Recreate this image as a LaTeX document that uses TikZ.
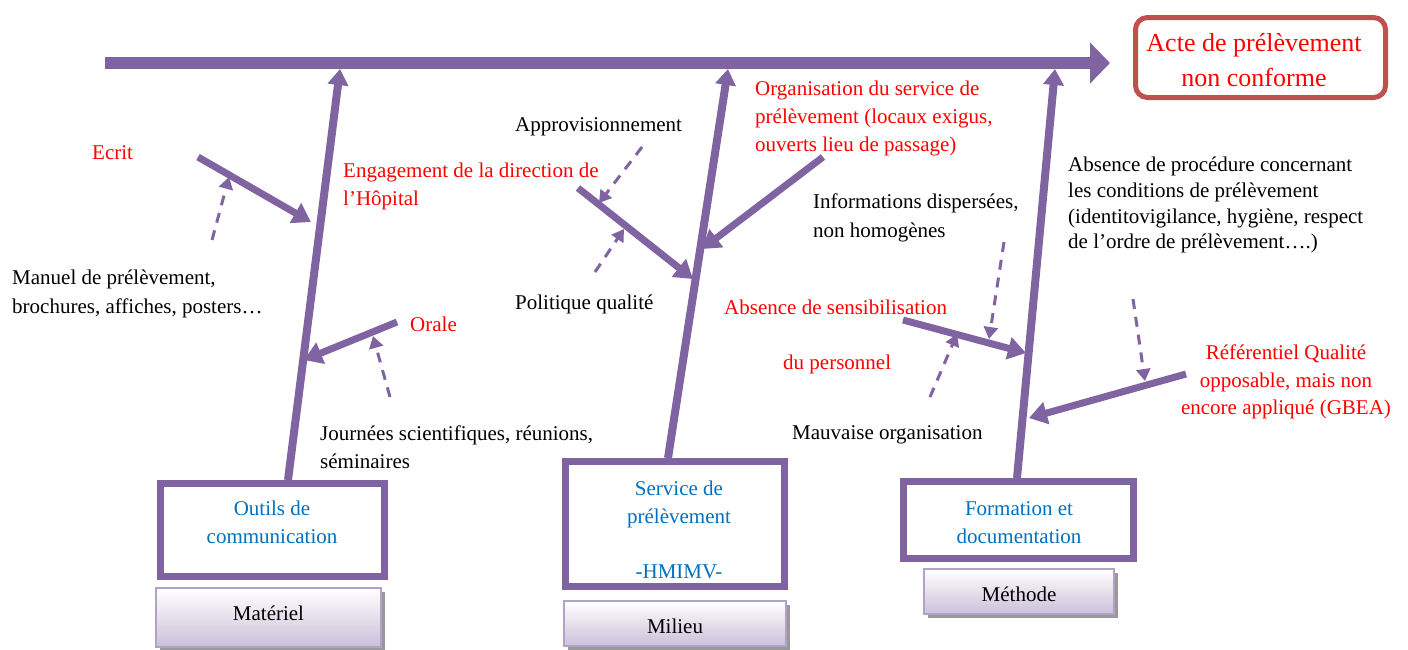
\documentclass[tikz,border=0pt]{standalone}
\usepackage{fontspec}
\setmainfont{Liberation Serif}
\usetikzlibrary{arrows.meta,calc,shadows}
\definecolor{bonecol}{HTML}{8064A2}
\definecolor{effectcol}{HTML}{C0504D}
\definecolor{redtext}{HTML}{FF0000}
\definecolor{bluetext}{HTML}{0070C0}
\definecolor{lavender}{HTML}{CCC0DA}
\definecolor{lavedge}{HTML}{B3A2C7}
\begin{document}
\begin{tikzpicture}[x=1pt,y=-1pt,
  spine/.style={draw=bonecol, line width=12pt, -{Triangle[length=20pt,width=40pt]}},
  mainbone/.style={draw=bonecol, line width=8pt, -{Triangle[length=16pt,width=20pt]}},
  subbone/.style={draw=bonecol, line width=7pt, -{Triangle[length=18pt,width=22pt]}},
  causeline/.style={draw=bonecol, line width=3pt, dash pattern=on 10pt off 8pt, -{Triangle[length=12pt,width=14pt]}},
  txt/.style={font=\fontsize{21}{28}\selectfont, inner sep=0pt, align=left, anchor=north west},
  redtxt/.style={txt, text=redtext},
  effectbox/.style={draw=effectcol, line width=5pt, rounded corners=12pt,
    minimum width=250pt, minimum height=80pt},
  effecttext/.style={align=center, text=redtext, font=\fontsize{26}{34.5}\selectfont, inner sep=0pt},
  catbox/.style={draw=bonecol, line width=7pt, fill=white},
  cattext/.style={font=\fontsize{21}{28}\selectfont, text=bluetext, align=center, inner sep=0pt},
  labelbox/.style={draw=lavedge, line width=2pt, top color=white, bottom color=lavender,
    drop shadow={shadow xshift=4pt, shadow yshift=-4pt, fill=black!40, opacity=1},
    font=\fontsize{21}{28}\selectfont, inner sep=0pt}
]
\useasboundingbox (0,0) rectangle (1408,649);

% effect
\node[effectbox] (effect) at (1260.5,57.5) {};
\node[effecttext] (effectt) at (1254,60) {Acte de prélèvement\\non conforme};

% spine
\coordinate (sp0) at (105,63);
\coordinate (sp1) at (1110,63);
\draw[spine] (sp0) -- (sp1);

% category boxes
\node[catbox, minimum width=224pt, minimum height=93pt] (cat1) at (272.5,530) {};
\node[cattext] (cat1t) at (272,522) {Outils de\\communication};
\node[catbox, minimum width=219pt, minimum height=125pt] (cat2) at (675,524) {};
\node[cattext] (cat2t) at (679,530) {Service de\\prélèvement\\[27pt]-HMIMV-};
\node[catbox, minimum width=230pt, minimum height=77pt] (cat3) at (1018.5,520) {};
\node[cattext] (cat3t) at (1019,523) {Formation et\\documentation};

% category labels
\node[labelbox, minimum width=225pt, minimum height=59pt, text height=15pt, text depth=10pt] (lab1) at (268.5,617.5) {Matériel};
\node[labelbox, minimum width=222pt, minimum height=45pt, text height=20pt, text depth=0pt] (lab2) at (675,623.5) {Milieu};
\node[labelbox, minimum width=190pt, minimum height=45pt, text height=19pt, text depth=0pt] (lab3) at (1019,591.5) {Méthode};

% main bones
\coordinate (b1s) at (288,480);  \coordinate (b1e) at (340,69);
\coordinate (b2s) at (668,458);  \coordinate (b2e) at (728,69);
\coordinate (b3s) at (1017,478); \coordinate (b3e) at (1055,69);
\draw[mainbone] (b1s) -- (b1e);
\draw[mainbone] (b2s) -- (b2e);
\draw[mainbone] (b3s) -- (b3e);

% Matériel causes
\coordinate (ecr0) at (198,157); \coordinate (ecr1) at (311,222);
\draw[subbone] (ecr0) -- (ecr1);
\coordinate (ecrd0) at (212,240); \coordinate (ecrd1) at (229,177);
\draw[causeline] (ecrd0) -- (ecrd1);
\coordinate (ora0) at (397,322); \coordinate (ora1) at (304,360);
\draw[subbone] (ora0) -- (ora1);
\coordinate (orad0) at (390,397); \coordinate (orad1) at (373,336);
\draw[causeline] (orad0) -- (orad1);

% Milieu causes
\coordinate (eng0) at (578,188); \coordinate (eng1) at (693,279);
\draw[subbone] (eng0) -- (eng1);
\coordinate (engd0) at (642,147); \coordinate (engd1) at (599,203);
\draw[causeline] (engd0) -- (engd1);
\coordinate (engd2) at (595,272); \coordinate (engd3) at (624,229);
\draw[causeline] (engd2) -- (engd3);
\coordinate (org0) at (823,157); \coordinate (org1) at (702,249);
\draw[subbone] (org0) -- (org1);

% Méthode causes
\coordinate (sen0) at (903,320); \coordinate (sen1) at (1026,353);
\draw[subbone] (sen0) -- (sen1);
\coordinate (send0) at (1004,242); \coordinate (send1) at (989,339);
\draw[causeline] (send0) -- (send1);
\coordinate (send2) at (930,397); \coordinate (send3) at (957,334);
\draw[causeline] (send2) -- (send3);
\coordinate (ref0) at (1186,374); \coordinate (ref1) at (1029,418);
\draw[subbone] (ref0) -- (ref1);
\coordinate (refd0) at (1133,299); \coordinate (refd1) at (1145,381);
\draw[causeline] (refd0) -- (refd1);

% texts
\node[redtxt] (tecrit) at (92,145) {Ecrit};
\node[txt] (tmanuel) at (12,270) {Manuel de prélèvement,\\[1pt]brochures, affiches, posters…};
\node[redtxt] (teng) at (343,163) {Engagement de la direction de\\l’Hôpital};
\node[redtxt] (torale) at (410,317) {Orale};
\node[txt] (tjour) at (320,426) {Journées scientifiques, réunions,\\séminaires};
\node[txt] (tappro) at (515,117) {Approvisionnement};
\node[txt] (tpoli) at (515,295) {Politique qualité};
\node[redtxt] (torga) at (755,81) {Organisation du service de\\prélèvement (locaux exigus,\\ouverts lieu de passage)};
\node[txt] (tinfo) at (813,194) {Informations dispersées,\\[1pt]non homogènes};
\node[redtxt] (tsens) at (724,300) {Absence de sensibilisation};
\node[redtxt] (tpers) at (783,355) {du personnel};
\node[txt] (tmauv) at (792,425) {Mauvaise organisation};
\node[txt, font=\fontsize{21}{25.7}\selectfont] (tproc) at (1068,157)
  {Absence de procédure concernant\\les conditions de prélèvement\\(identitovigilance, hygiène, respect\\de l’ordre de prélèvement….)};
\node[redtxt, align=center, anchor=north, font=\fontsize{21}{27.5}\selectfont] (tref) at (1286,345)
  {Référentiel Qualité\\opposable, mais non\\encore appliqué (GBEA)};
\end{tikzpicture}
\end{document}
